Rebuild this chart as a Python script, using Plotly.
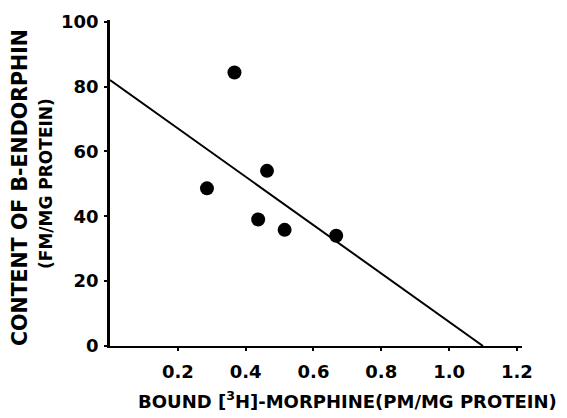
import plotly.graph_objects as go

# data
bound_morphine = [0.286, 0.367, 0.437, 0.463, 0.515, 0.667]
endorphin = [48.6, 84.3, 39.0, 54.0, 35.8, 34.0]
fit_x = [0.0, 1.10]
fit_y = [82.0, 0.0]
x_ticks = [0.2, 0.4, 0.6, 0.8, 1.0, 1.2]
x_tick_labels = ["0.2", "0.4", "0.6", "0.8", "1.0", "1.2"]
y_ticks = [0, 20, 40, 60, 80, 100]
y_tick_labels = ["0", "20", "40", "60", "80", "100"]
x_title = "BOUND [<sup>3</sup>H]-MORPHINE(PM/MG PROTEIN)"
y_title_1 = "CONTENT OF B-ENDORPHIN"
y_title_2 = "(FM/MG PROTEIN)"

OFF = 8  # page body margin offset
W, H = 567, 418
L, T = 110 - OFF, 20 - OFF
R = W - (522 - OFF)
B = H - (346 - OFF)
PW, PH = W - L - R, H - T - B

def px(xp):
    return (xp - OFF - L) / PW

def py(yp):
    return (H - B - (yp - OFF)) / PH

fig = go.Figure()
fig.add_trace(go.Scatter(x=fit_x, y=fit_y, mode="lines",
                         line=dict(color="black", width=2), showlegend=False))
fig.add_trace(go.Scatter(x=bound_morphine, y=endorphin, mode="markers",
                         marker=dict(color="black", size=14), showlegend=False))

tickfont = dict(family="DejaVu Sans", size=18, color="black", weight="bold")

fig.update_layout(
    width=W, height=H,
    margin=dict(l=L, r=R, t=T, b=B, autoexpand=False),
    plot_bgcolor="white", paper_bgcolor="white",
    xaxis=dict(range=[0, 1.215], tickvals=x_ticks, ticktext=x_tick_labels,
               showgrid=False, zeroline=False, showline=True, linecolor="black",
               linewidth=2, ticks="outside", ticklen=3, tickwidth=2, tickcolor="black",
               tickfont=tickfont, automargin=False, ticklabelstandoff=5),
    yaxis=dict(range=[0, 100.5], tickvals=y_ticks, ticktext=y_tick_labels,
               showgrid=False, zeroline=False, showline=True, linecolor="black",
               linewidth=2.5, ticks="outside", ticklen=3, tickwidth=2, tickcolor="black",
               tickfont=tickfont, automargin=False, ticklabelstandoff=2),
    annotations=[
        dict(text=x_title, xref="paper", yref="paper", x=px(347), y=py(400),
             xanchor="center", yanchor="middle", showarrow=False,
             font=dict(family="DejaVu Sans", size=18, color="black", weight="bold")),
        dict(text=y_title_1, xref="paper", yref="paper", x=px(20), y=py(188),
             xanchor="center", yanchor="middle", showarrow=False, textangle=-90,
             font=dict(family="DejaVu Sans", size=20.5, color="black", weight="bold")),
        dict(text=y_title_2, xref="paper", yref="paper", x=px(46), y=py(184),
             xanchor="center", yanchor="middle", showarrow=False, textangle=-90,
             font=dict(family="DejaVu Sans", size=17, color="black", weight="bold")),
    ],
)

fig.write_html("out.html")
